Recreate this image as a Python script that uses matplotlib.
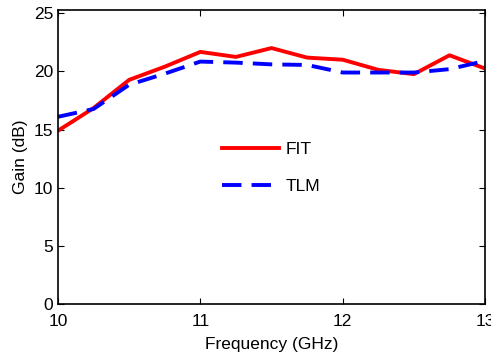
import matplotlib.pyplot as plt

plt.rcParams['font.family'] = ['Liberation Sans', 'DejaVu Sans']

# frequency points (GHz) and gain values (dB)
freq = [10.0, 10.25, 10.5, 10.75, 11.0, 11.25, 11.5, 11.75, 12.0, 12.25, 12.5, 12.75, 13.0]
gain_fit = [14.9, 16.85, 19.27, 20.4, 21.67, 21.24, 22.0, 21.18, 21.0, 20.13, 19.76, 21.38, 20.24]
gain_tlm = [16.1, 16.77, 18.85, 19.8, 20.84, 20.75, 20.6, 20.55, 19.9, 19.9, 19.9, 20.19, 20.9]

xticks = [10, 11, 12, 13]
yticks = [0, 5, 10, 15, 20, 25]

fig = plt.figure(figsize=(4.91, 3.56), dpi=100)
ax = fig.add_axes([0.118, 0.145, 0.870, 0.828])

ax.plot(freq, gain_fit, color='#ff0000', lw=2.8, label='FIT')
ax.plot(freq, gain_tlm, color='#0000ff', lw=2.8, ls=(0, (5, 2.6)), label='TLM')

ax.set_xlim(10, 13)
ax.set_ylim(0, 25.3)
ax.set_xticks(xticks)
ax.set_yticks(yticks)
ax.tick_params(direction='in', length=4, width=0.8, labelsize=12.5,
               top=True, right=True)
ax.tick_params(axis='x', pad=7)
for s in ax.spines.values():
    s.set_linewidth(1.2)

ax.set_xlabel('Frequency (GHz)', fontsize=12.5, labelpad=6)
ax.set_ylabel('Gain (dB)', fontsize=12.5, labelpad=4)

ax.legend(loc='center', bbox_to_anchor=(0.499, 0.462), frameon=False,
          fontsize=12.5, handlelength=3.3, handletextpad=0.35, labelspacing=1.25)

fig.savefig('out.png', dpi=100)
